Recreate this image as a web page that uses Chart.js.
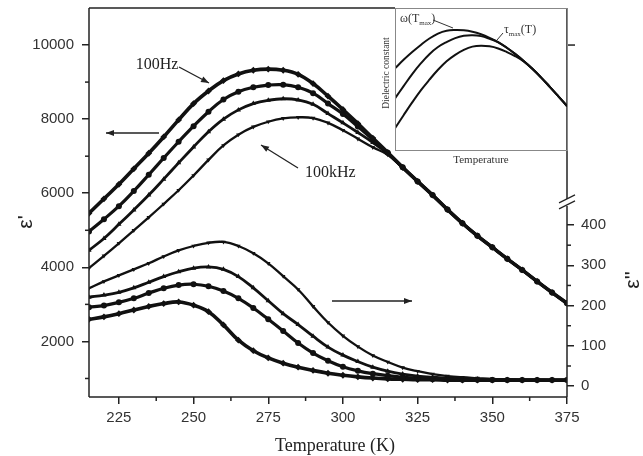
<!DOCTYPE html>
<html>
<head>
<meta charset="utf-8">
<script src="https://cdn.jsdelivr.net/npm/chart.js@4.4.1/dist/chart.umd.min.js"></script>
<style>
body { margin: 0; background: #fff; }
#wrap { position: relative; width: 643px; height: 456px; }
#main { position: absolute; left: 0; top: 0; }
#inset { position: absolute; left: 380px; top: 0; }
</style>
</head>
<body>
<div id="wrap">
<canvas id="main" width="643" height="456"></canvas>
<canvas id="inset" width="190" height="175"></canvas>
</div>
<script>
// temperature grid (K)
var temps = [215, 220, 225, 230, 235, 240, 245, 250, 255, 260, 265, 270, 275, 280, 285, 290,
  295, 300, 305, 310, 315, 320, 325, 330, 335, 340, 345, 350, 355, 360, 365, 370, 375]

// real part eps' (left axis)
var epsReal100Hz = [5460, 5850, 6240, 6660, 7080, 7520, 7980, 8420, 8760, 9040, 9220, 9320, 9350, 9320, 9210, 8960,
  8620, 8260, 7880, 7490, 7100, 6700, 6320, 5950, 5560, 5190, 4850, 4540, 4230, 3930, 3620, 3320, 3030]
var epsReal1kHz = [4970, 5300, 5650, 6060, 6500, 6950, 7390, 7810, 8200, 8530, 8740, 8860, 8920, 8930, 8860, 8700,
  8420, 8140, 7800, 7450, 7090, 6700, 6320, 5950, 5560, 5190, 4850, 4540, 4230, 3930, 3620, 3320, 3030]
var epsReal10kHz = [4460, 4780, 5160, 5550, 5950, 6380, 6820, 7250, 7660, 8000, 8250, 8420, 8510, 8550, 8520, 8400,
  8150, 7900, 7640, 7370, 7070, 6690, 6320, 5950, 5560, 5190, 4850, 4540, 4230, 3930, 3620, 3320, 3030]
var epsReal100kHz = [3980, 4310, 4650, 5000, 5350, 5710, 6080, 6480, 6900, 7290, 7580, 7790, 7930, 8020, 8050, 8030,
  7900, 7700, 7470, 7240, 7040, 6680, 6320, 5950, 5560, 5190, 4850, 4540, 4230, 3930, 3620, 3320, 3030]

// imaginary part eps'' (right axis)
var epsImag100kHz = [243, 260, 275, 290, 305, 322, 337, 348, 356, 358, 348, 330, 305, 273, 240, 198,
  158, 125, 98, 76, 60, 46, 37, 30, 25, 22, 20, 18, 17, 16, 16, 15, 15]
var epsImag10kHz = [221, 226, 233, 244, 258, 272, 284, 293, 296, 290, 272, 244, 212, 180, 153, 124,
  97, 77, 61, 47, 37, 30, 25, 22, 20, 18, 17, 16, 16, 15, 15, 15, 15]
var epsImag1kHz = [196, 200, 208, 218, 231, 243, 251, 253, 248, 236, 218, 194, 166, 137, 107, 82,
  63, 48, 38, 31, 26, 22, 20, 18, 17, 16, 16, 15, 15, 15, 15, 15, 15]
var epsImag100Hz = [166, 172, 180, 189, 198, 205, 209, 201, 185, 152, 114, 88, 70, 57, 47, 39,
  32, 27, 23, 20, 18, 17, 16, 16, 15, 15, 15, 15, 15, 15, 15, 15, 15]

var bottomTicks = [225, 250, 275, 300, 325, 350, 375]
var bottomMinor = [237.5, 262.5, 287.5, 312.5, 337.5, 362.5]
var leftTicks = [2000, 4000, 6000, 8000, 10000]
var leftMinor = [1000, 3000, 5000, 7000, 9000]
var rightTicks = [0, 100, 200, 300, 400]
var rightMinor = [50, 150, 250, 350]

// inset (arbitrary units)
var insetX = [0, 5, 10, 15, 20, 25, 30, 35, 40, 45, 50, 55, 60, 65, 70, 75, 80, 85, 90, 95, 100]
var insetTop = [57.5, 63.5, 69, 74, 78.5, 82, 84, 84.5, 84.3, 83.3, 81.5, 79, 76, 72, 67.5, 62.5, 57, 51, 44.5, 37.8, 31]
var insetMid = [36.4, 45, 53.5, 61, 67.5, 72.5, 76, 78.8, 80.4, 80.8, 80.2, 78.3, 75.8, 72, 67.5, 62.5, 57, 51, 44.5, 37.8, 31]
var insetLow = [15.3, 24.5, 33.5, 42, 49.5, 56.5, 62.5, 67, 70.5, 72.8, 73.5, 73, 71.5, 69, 66, 62.2, 57, 51, 44.5, 37.8, 31]

Chart.defaults.font.family = 'Liberation Sans'
Chart.defaults.color = '#333'

function pts(xs, ys) {
  return xs.map(function(t, i) { return {x: t, y: ys[i]} })
}

function series(ys, axis, style, rot, r, w) {
  return {
    data: pts(temps, ys), yAxisID: axis,
    borderColor: '#111', backgroundColor: '#111', borderWidth: w,
    pointStyle: style, rotation: rot, pointRadius: r, pointBorderWidth: 0,
    tension: 0.4
  }
}

function arrow(ctx, x1, y1, x2, y2) {
  ctx.beginPath(); ctx.moveTo(x1, y1); ctx.lineTo(x2, y2); ctx.stroke()
  var a = Math.atan2(y2 - y1, x2 - x1)
  ctx.beginPath()
  ctx.moveTo(x2, y2)
  ctx.lineTo(x2 - 8 * Math.cos(a) + 3 * Math.sin(a), y2 - 8 * Math.sin(a) - 3 * Math.cos(a))
  ctx.lineTo(x2 - 8 * Math.cos(a) - 3 * Math.sin(a), y2 - 8 * Math.sin(a) + 3 * Math.cos(a))
  ctx.closePath(); ctx.fill()
}

function seg(ctx, x1, y1, x2, y2) {
  ctx.beginPath(); ctx.moveTo(x1, y1); ctx.lineTo(x2, y2); ctx.stroke()
}

var frame = {
  id: 'frame',
  afterDraw: function(chart) {
    var ctx = chart.ctx, a = chart.chartArea, s = chart.scales
    ctx.save()
    ctx.strokeStyle = '#222'; ctx.fillStyle = '#222'; ctx.lineWidth = 1.5
    seg(ctx, a.left, a.top, a.left, a.bottom)
    seg(ctx, a.left, a.bottom, a.right, a.bottom)
    seg(ctx, a.left, a.top, 395, a.top)
    // right axis with break
    var yb = s.y1.getPixelForValue(455)
    seg(ctx, a.right, a.top, a.right, yb - 4)
    seg(ctx, a.right, yb + 3, a.right, a.bottom)
    ctx.lineWidth = 1.2
    seg(ctx, a.right - 8, yb, a.right + 8, yb - 8)
    seg(ctx, a.right - 8, yb + 6, a.right + 8, yb - 2)
    ctx.lineWidth = 1.5
    seg(ctx, a.right, s.y.getPixelForValue(10000), a.right + 8, s.y.getPixelForValue(10000))
    // minor ticks
    leftMinor.forEach(function(v) { var y = s.y.getPixelForValue(v); seg(ctx, a.left - 4, y, a.left, y) })
    rightMinor.forEach(function(v) { var y = s.y1.getPixelForValue(v); seg(ctx, a.right, y, a.right + 4, y) })
    bottomMinor.forEach(function(v) { var x = s.x.getPixelForValue(v); seg(ctx, x, a.bottom, x, a.bottom + 4) })
    // arrows
    ctx.lineWidth = 1.3
    arrow(ctx, 179, 67, 209, 83)
    arrow(ctx, 159, 133, 106, 133)
    arrow(ctx, 298, 168, 261, 145)
    arrow(ctx, 332, 301, 412, 301)
    // texts
    ctx.fillStyle = '#222'
    ctx.font = '16px "Liberation Serif"'
    ctx.textBaseline = 'middle'
    ctx.textAlign = 'center'
    ctx.fillText('100Hz', 157, 65)
    ctx.textAlign = 'left'
    ctx.fillText('100kHz', 305, 173)
    ctx.font = '18px "Liberation Serif"'
    ctx.textAlign = 'center'
    ctx.fillText('Temperature (K)', 335, 446)
    ctx.font = '21px "Liberation Sans"'
    ctx.save(); ctx.translate(26, 222); ctx.rotate(-Math.PI / 2); ctx.fillText("\u03b5'", 0, 0); ctx.restore()
    ctx.save(); ctx.translate(633, 280); ctx.rotate(-Math.PI / 2); ctx.fillText("\u03b5''", 0, 0); ctx.restore()
    ctx.restore()
  }
}

function fixedTicks(list) {
  return function(scale) { scale.ticks = list.map(function(v) { return {value: v} }) }
}

function fitV(w) {
  return function(sc) { sc.width = w; sc.paddingTop = 0; sc.paddingBottom = 0 }
}

var grid = {drawOnChartArea: false, tickLength: 7, color: '#222', lineWidth: 1.5}

new Chart(document.getElementById('main').getContext('2d'), {
  type: 'line',
  data: {
    datasets: [
      series(epsReal100Hz, 'y', 'rectRot', 0, 3.4, 3.6),
      series(epsReal1kHz, 'y', 'circle', 0, 3, 3.2),
      series(epsReal10kHz, 'y', 'triangle', 0, 3, 2.8),
      series(epsReal100kHz, 'y', 'triangle', 180, 2.6, 2.3),
      series(epsImag100kHz, 'y1', 'triangle', 180, 2.6, 2.3),
      series(epsImag10kHz, 'y1', 'triangle', 0, 3, 2.8),
      series(epsImag1kHz, 'y1', 'circle', 0, 3, 3.2),
      series(epsImag100Hz, 'y1', 'rectRot', 0, 3.4, 3.6)
    ]
  },
  options: {
    responsive: false,
    animation: false,
    layout: {padding: {top: 8}},
    plugins: {legend: {display: false}, tooltip: {enabled: false}},
    scales: {
      x: {
        type: 'linear', min: 215, max: 375,
        afterBuildTicks: fixedTicks(bottomTicks),
        afterFit: function(sc) { sc.height = 59; sc.paddingLeft = 0; sc.paddingRight = 0 },
        grid: grid, border: {display: false},
        ticks: {padding: 5, font: {size: 15}, autoSkip: false, maxRotation: 0, callback: function(v) { return String(v) }}
      },
      y: {
        position: 'left', min: 500, max: 11000,
        afterBuildTicks: fixedTicks(leftTicks),
        afterFit: fitV(89),
        grid: grid, border: {display: false},
        ticks: {padding: 8, font: {size: 15}, callback: function(v) { return String(v) }}
      },
      y1: {
        position: 'right', min: -27, max: 939,
        afterBuildTicks: fixedTicks(rightTicks),
        afterFit: fitV(76),
        grid: grid, border: {display: false},
        ticks: {padding: 7, font: {size: 15}, callback: function(v) { return String(v) }}
      }
    }
  },
  plugins: [frame]
})

function subText(ctx, x, y, parts) {
  parts.forEach(function(p) {
    ctx.font = p.size + 'px "Liberation Serif"'
    ctx.fillText(p.t, x, y + p.dy)
    x += ctx.measureText(p.t).width
  })
}

var insetDeco = {
  id: 'insetDeco',
  afterDraw: function(chart) {
    var ctx = chart.ctx, a = chart.chartArea
    ctx.save()
    ctx.strokeStyle = '#888'; ctx.lineWidth = 1
    ctx.strokeRect(a.left + 0.5, a.top + 0.5, a.right - a.left, a.bottom - a.top)
    ctx.fillStyle = '#333'
    ctx.textBaseline = 'middle'; ctx.textAlign = 'center'
    ctx.font = '11px "Liberation Serif"'
    ctx.fillText('Temperature', (a.left + a.right) / 2, a.bottom + 10)
    ctx.font = '9.5px "Liberation Serif"'
    ctx.save(); ctx.translate(a.left - 9, 73); ctx.rotate(-Math.PI / 2); ctx.fillText('Dielectric constant', 0, 0); ctx.restore()
    ctx.textAlign = 'left'; ctx.textBaseline = 'alphabetic'
    subText(ctx, 20, 22, [{t: '\u03c9(T', size: 12, dy: 0}, {t: 'max', size: 7, dy: 3}, {t: ')', size: 12, dy: 0}])
    subText(ctx, 124, 33, [{t: '\u03c4', size: 12, dy: 0}, {t: 'max', size: 7, dy: 3}, {t: '(T)', size: 12, dy: 0}])
    ctx.strokeStyle = '#333'
    seg(ctx, 53, 20, 73, 28)
    seg(ctx, 123, 33, 117, 40)
    ctx.restore()
  }
}

function insetLine(ys) {
  return {data: pts(insetX, ys), borderColor: '#111', borderWidth: 2, pointRadius: 0, tension: 0.4}
}

new Chart(document.getElementById('inset').getContext('2d'), {
  type: 'line',
  data: {datasets: [insetLine(insetTop), insetLine(insetMid), insetLine(insetLow)]},
  options: {
    responsive: false,
    animation: false,
    layout: {padding: {left: 15, right: 3, top: 8, bottom: 25}},
    plugins: {legend: {display: false}, tooltip: {enabled: false}},
    scales: {
      x: {type: 'linear', min: 0, max: 100, display: false},
      y: {min: 0, max: 100, display: false}
    }
  },
  plugins: [insetDeco]
})
</script>
</body>
</html>
